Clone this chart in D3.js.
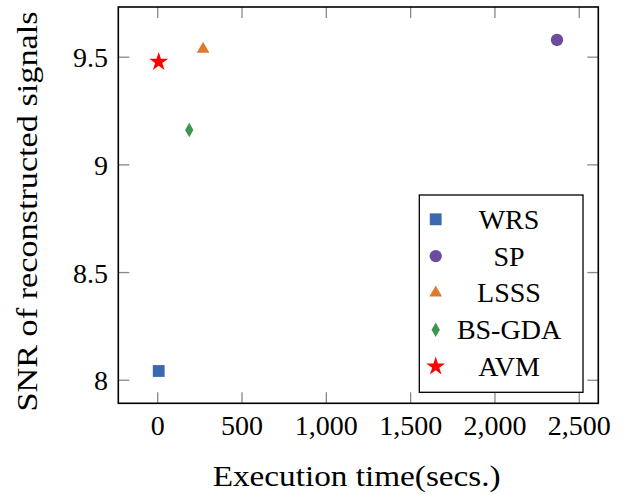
<!DOCTYPE html>
<html><head><meta charset="utf-8">
<script src="https://cdn.jsdelivr.net/npm/d3@7"></script>
<style>body{margin:0;background:#fff}svg{display:block}</style>
</head><body><svg id="c" width="623" height="495"></svg>
<script>
const methods = ["WRS", "SP", "LSSS", "BS-GDA", "AVM"];
const execTime = [6, 2368, 269, 187, 6];
const snr = [8.043, 9.58, 9.538, 9.162, 9.478];
const colors = ["#396AB1", "#6B4C9A", "#DA7C30", "#3E9651", "#FF0000"];
const shapes = ["square", "circle", "triangle", "diamond", "star"];
const xTicks = [0, 500, 1000, 1500, 2000, 2500];
const yTicks = [8, 8.5, 9, 9.5];

const FONT = "'Liberation Serif', 'DejaVu Serif', 'Times New Roman', Times, serif";
const svg = d3.select("#c").attr("font-family", FONT);
const L = 118.3, R = 598.3, T = 7, B = 403.3;
const x = d3.scaleLinear().domain([-233.7, 2613]).range([L, R]);
const y = d3.scaleLinear().domain([7.893, 9.733]).range([B, T]);
const fs = 28;

function symPath(shape) {
  const m = {square: [d3.symbolSquare, 140], circle: [d3.symbolCircle, 120], triangle: [d3.symbolTriangle, 70],
    diamond: [d3.symbolDiamond, 60], star: [d3.symbolStar, 110]}[shape];
  return d3.symbol().type(m[0]).size(m[1])();
}

const tk = 11, tc = "#888";
const g = svg.append("g");
xTicks.forEach(v => {
  g.append("line").attr("x1", x(v)).attr("x2", x(v)).attr("y1", B).attr("y2", B - tk).attr("stroke", tc).attr("stroke-width", 1.3);
  g.append("line").attr("x1", x(v)).attr("x2", x(v)).attr("y1", T).attr("y2", T + tk).attr("stroke", tc).attr("stroke-width", 1.3);
  g.append("text").attr("x", x(v)).attr("y", 435).attr("text-anchor", "middle").attr("font-size", fs).text(d3.format(",")(v));
});
yTicks.forEach(v => {
  g.append("line").attr("x1", L).attr("x2", L + tk).attr("y1", y(v)).attr("y2", y(v)).attr("stroke", tc).attr("stroke-width", 1.3);
  g.append("line").attr("x1", R).attr("x2", R - tk).attr("y1", y(v)).attr("y2", y(v)).attr("stroke", tc).attr("stroke-width", 1.3);
  g.append("text").attr("x", 108).attr("y", y(v) + 10).attr("text-anchor", "end").attr("font-size", fs).text(v);
});

svg.append("rect").attr("x", L).attr("y", T).attr("width", R - L).attr("height", B - T)
  .attr("fill", "none").attr("stroke", "#000").attr("stroke-width", 1.6);

methods.forEach((mname, i) => {
  svg.append("path").attr("d", symPath(shapes[i]))
    .attr("transform", `translate(${x(execTime[i])},${y(snr[i])})`).attr("fill", colors[i]);
});

const lg = svg.append("g");
lg.append("rect").attr("x", 419.3).attr("y", 195).attr("width", 163.7).attr("height", 197.3)
  .attr("fill", "#fff").attr("stroke", "#000").attr("stroke-width", 1.3);
methods.forEach((mname, i) => {
  const cy = 219.3 + i * 36.8;
  lg.append("path").attr("d", symPath(shapes[i])).attr("transform", `translate(435.7,${cy})`).attr("fill", colors[i]);
  lg.append("text").attr("x", 509).attr("y", cy + 9.5).attr("text-anchor", "middle").attr("font-size", fs).text(mname);
});

svg.append("text").attr("x", 356.7).attr("y", 486).attr("text-anchor", "middle").attr("font-size", 29)
  .attr("textLength", 288).attr("lengthAdjust", "spacingAndGlyphs").text("Execution time(secs.)");
svg.append("text").attr("transform", "translate(37,211.5) rotate(-90)").attr("text-anchor", "middle").attr("font-size", 29)
  .attr("textLength", 400).attr("lengthAdjust", "spacingAndGlyphs").text("SNR of reconstructed signals");
</script></body></html>
